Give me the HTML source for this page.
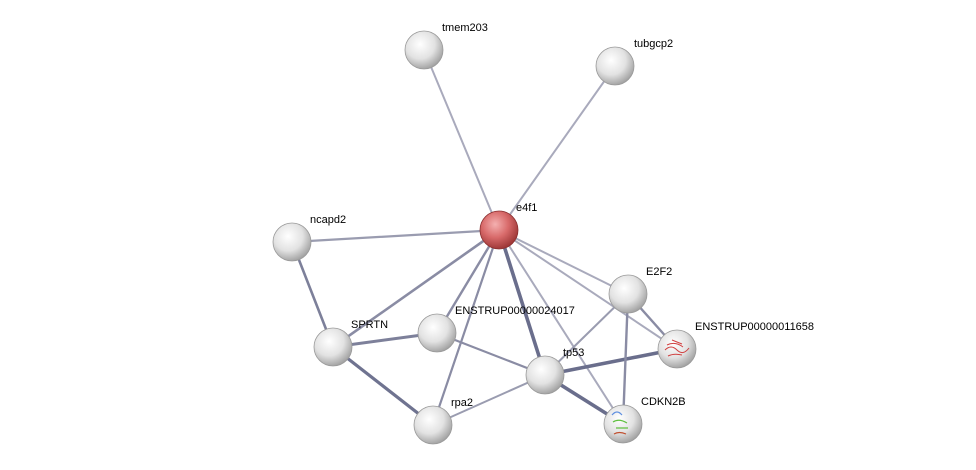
<!DOCTYPE html>
<html><head><meta charset="utf-8"><style>
html,body{margin:0;padding:0;background:#fff;}
svg{display:block;}
text{font-family:"Liberation Sans",sans-serif;font-size:11px;fill:#000;}
</style></head><body>
<svg width="976" height="470" viewBox="0 0 976 470">
<defs>
<radialGradient id="g" cx="0.4" cy="0.35" r="0.7">
<stop offset="0" stop-color="#ffffff"/><stop offset="0.55" stop-color="#e2e2e2"/><stop offset="1" stop-color="#9a9a9a"/>
</radialGradient>
<radialGradient id="r" cx="0.4" cy="0.35" r="0.7">
<stop offset="0" stop-color="#f4b0b0"/><stop offset="0.5" stop-color="#d86a6a"/><stop offset="1" stop-color="#963030"/>
</radialGradient>
<linearGradient id="hl" x1="0" y1="0" x2="0" y2="1">
<stop offset="0" stop-color="#fff" stop-opacity="0.9"/><stop offset="1" stop-color="#fff" stop-opacity="0"/>
</linearGradient>
</defs>
<g stroke-linecap="round">
<line x1="499" y1="230" x2="424" y2="50" stroke="#a9aabc" stroke-width="2"/>
<line x1="499" y1="230" x2="615" y2="66" stroke="#a9aabc" stroke-width="2"/>
<line x1="499" y1="230" x2="292" y2="242" stroke="#9a9cb0" stroke-width="2.2"/>
<line x1="499" y1="230" x2="333" y2="347" stroke="#8a8ca4" stroke-width="2.6"/>
<line x1="499" y1="230" x2="437" y2="333" stroke="#8a8ca4" stroke-width="2.4"/>
<line x1="499" y1="230" x2="433" y2="425" stroke="#8a8ca4" stroke-width="2.2"/>
<line x1="499" y1="230" x2="545" y2="375" stroke="#6a6e8c" stroke-width="3.6"/>
<line x1="499" y1="230" x2="628" y2="294" stroke="#a9aabc" stroke-width="2"/>
<line x1="499" y1="230" x2="677" y2="349" stroke="#a9aabc" stroke-width="2"/>
<line x1="499" y1="230" x2="623" y2="424" stroke="#a9aabc" stroke-width="2"/>
<line x1="292" y1="242" x2="333" y2="347" stroke="#7d809a" stroke-width="2.6"/>
<line x1="333" y1="347" x2="437" y2="333" stroke="#7d809a" stroke-width="3"/>
<line x1="333" y1="347" x2="433" y2="425" stroke="#6f7390" stroke-width="3.2"/>
<line x1="437" y1="333" x2="545" y2="375" stroke="#8a8ca4" stroke-width="2.2"/>
<line x1="433" y1="425" x2="545" y2="375" stroke="#9a9cb0" stroke-width="2"/>
<line x1="545" y1="375" x2="628" y2="294" stroke="#9a9cb0" stroke-width="2"/>
<line x1="545" y1="375" x2="677" y2="349" stroke="#6a6e8c" stroke-width="3.6"/>
<line x1="545" y1="375" x2="623" y2="424" stroke="#6a6e8c" stroke-width="3.6"/>
<line x1="628" y1="294" x2="677" y2="349" stroke="#8a8ca4" stroke-width="2.4"/>
<line x1="628" y1="294" x2="623" y2="424" stroke="#8a8ca4" stroke-width="2.4"/>
</g>
<g stroke="#9a9a9a" stroke-width="0.8">
<circle cx="424" cy="50" r="19" fill="url(#g)"/>
<circle cx="615" cy="66" r="19" fill="url(#g)"/>
<circle cx="499" cy="230" r="19" fill="url(#r)" stroke="#8a3030"/>
<circle cx="292" cy="242" r="19" fill="url(#g)"/>
<circle cx="628" cy="294" r="19" fill="url(#g)"/>
<circle cx="677" cy="349" r="19" fill="url(#g)"/>
<circle cx="333" cy="347" r="19" fill="url(#g)"/>
<circle cx="437" cy="333" r="19" fill="url(#g)"/>
<circle cx="545" cy="375" r="19" fill="url(#g)"/>
<circle cx="433" cy="425" r="19" fill="url(#g)"/>
<circle cx="623" cy="424" r="19" fill="url(#g)"/>
</g>
<g fill="none" stroke="#d04040" stroke-width="1">
<path d="M665 350 q6 -6 12 0 t12 -2 M667 345 q8 -4 16 2 M668 356 q6 -3 14 -1 M672 340 l10 4"/>
</g>
<g fill="none" stroke-width="1.2">
<path d="M612 415 q5 -6 10 0" stroke="#6090e0"/>
<path d="M613 422 q6 -4 14 1 M616 428 h12" stroke="#60c040"/>
<path d="M614 434 q5 -3 12 0" stroke="#c05030"/>
</g>
<g>
<text x="442" y="31">tmem203</text>
<text x="634" y="47">tubgcp2</text>
<text x="516" y="211">e4f1</text>
<text x="310" y="223">ncapd2</text>
<text x="646" y="275">E2F2</text>
<text x="695" y="330">ENSTRUP00000011658</text>
<text x="351" y="328">SPRTN</text>
<text x="455" y="314">ENSTRUP00000024017</text>
<text x="563" y="356">tp53</text>
<text x="451" y="406">rpa2</text>
<text x="641" y="405">CDKN2B</text>
</g>
</svg>
</body></html>
